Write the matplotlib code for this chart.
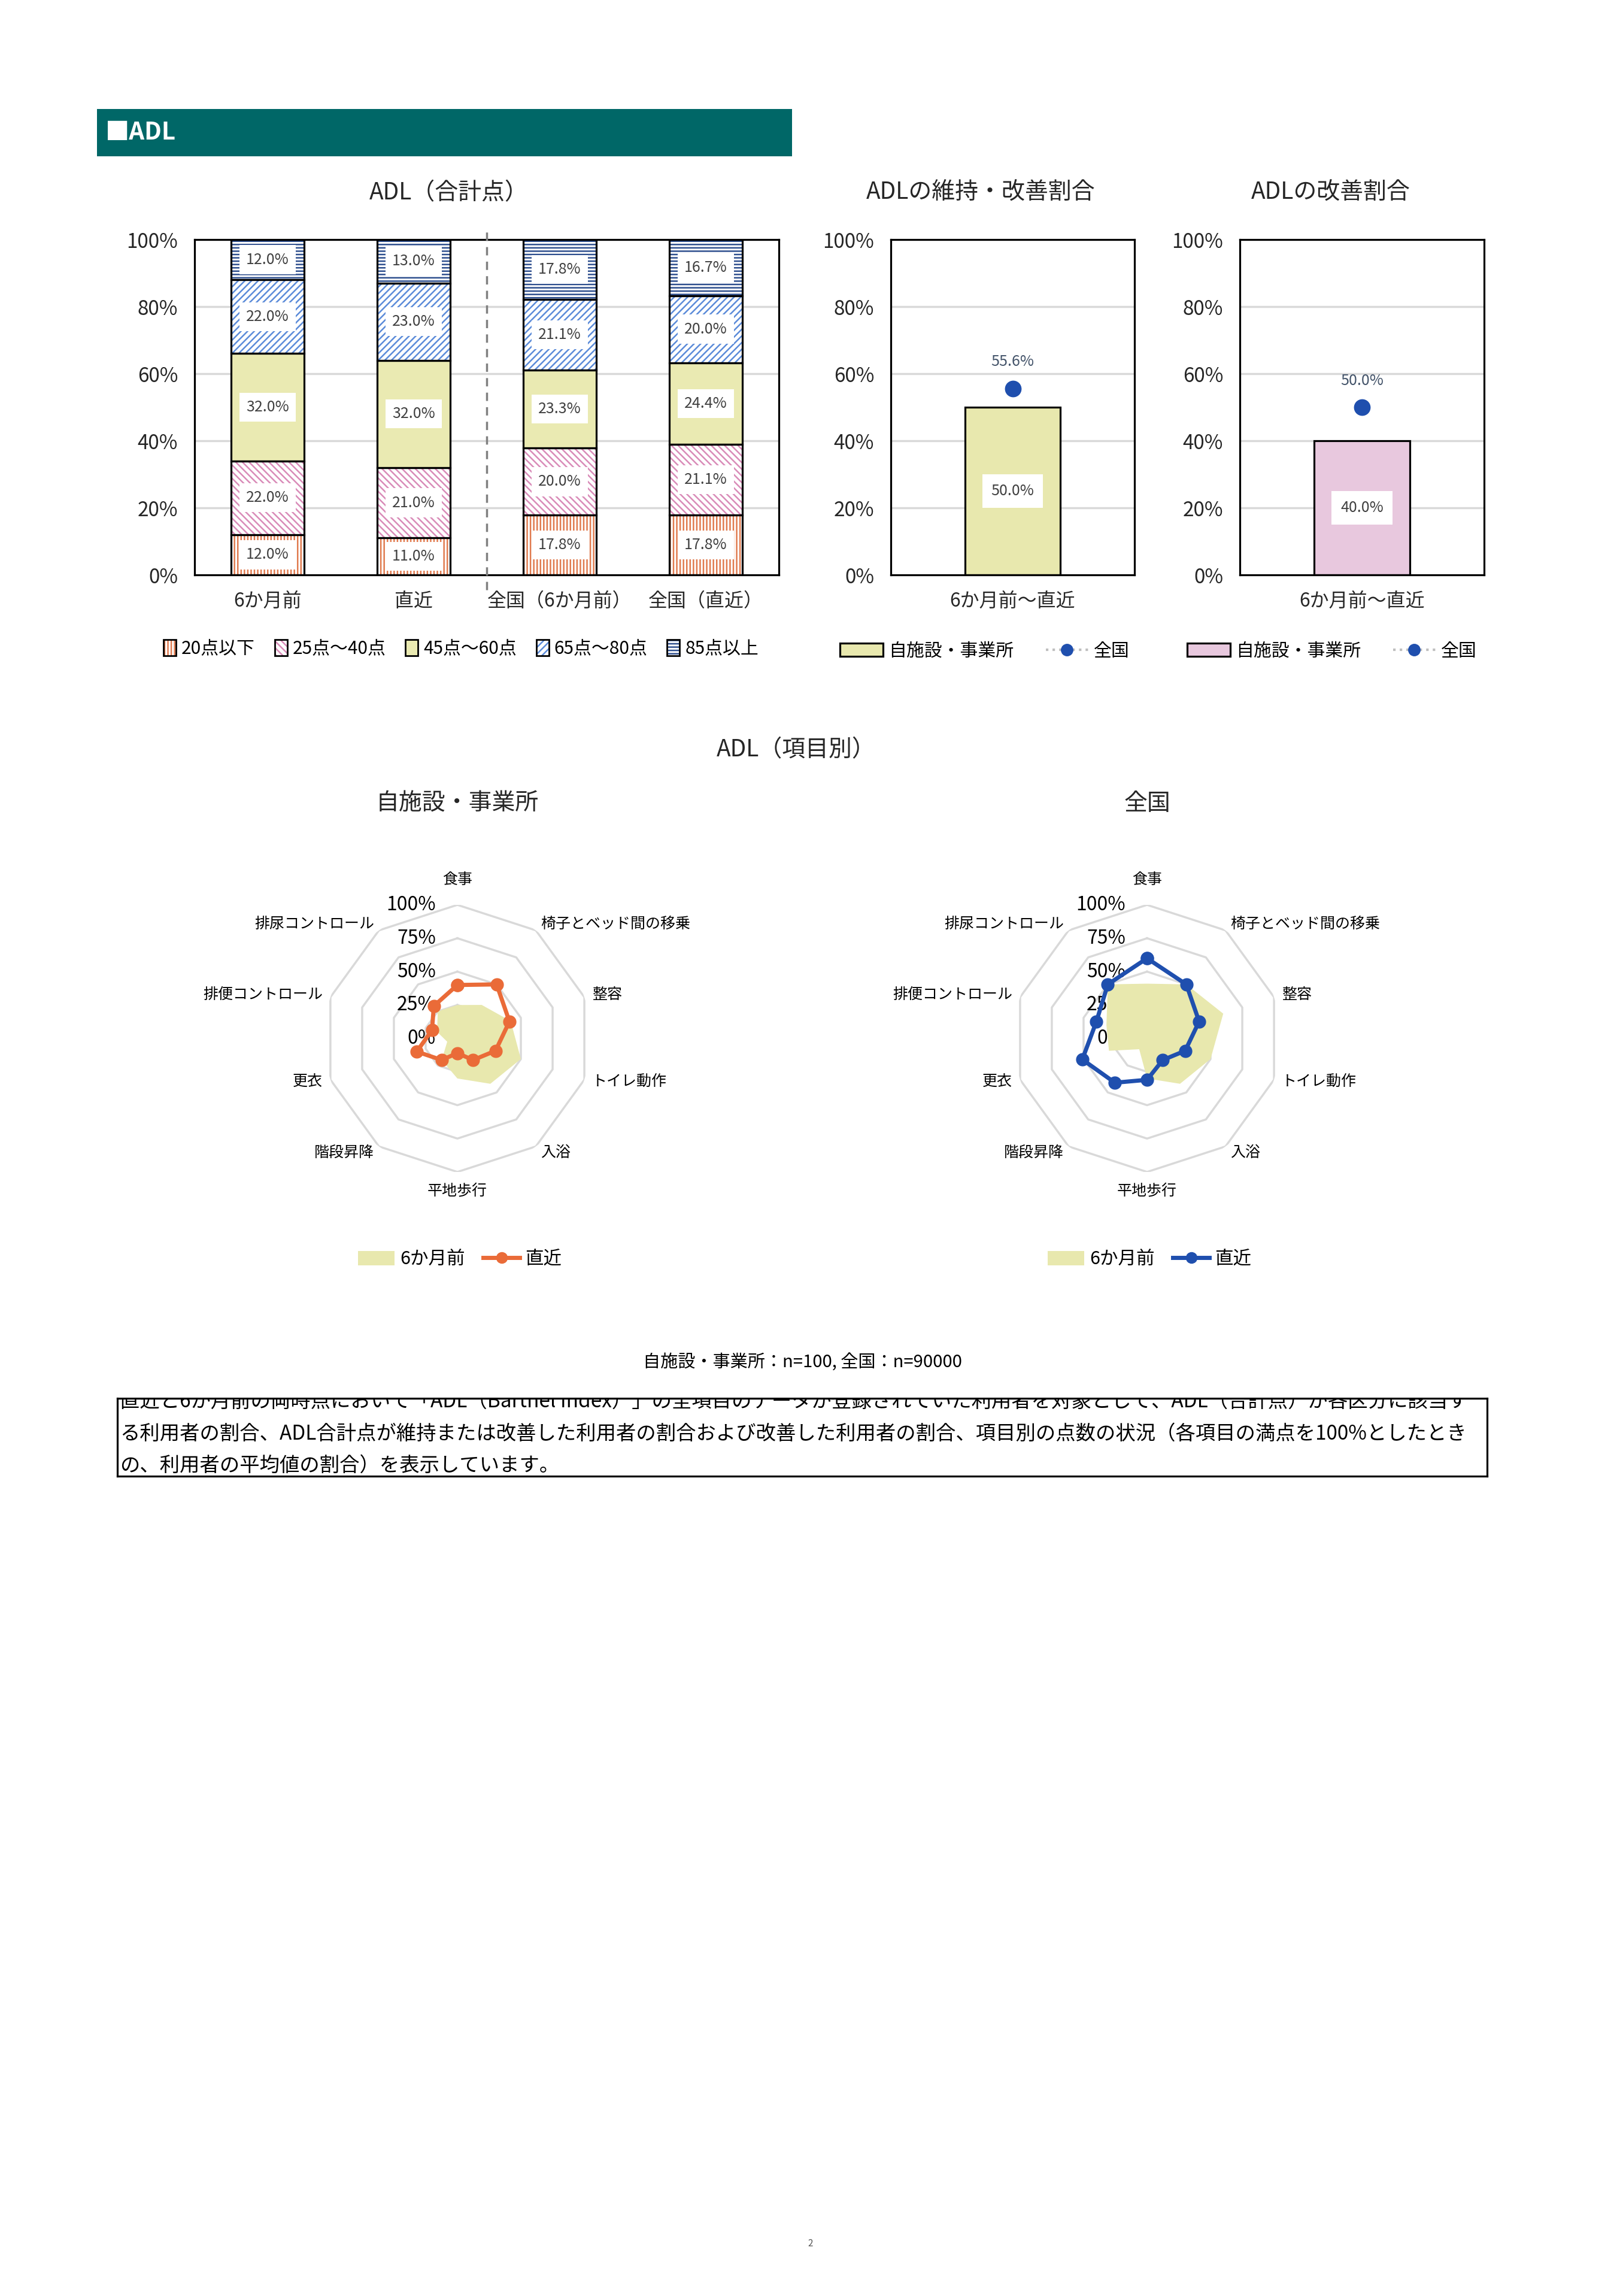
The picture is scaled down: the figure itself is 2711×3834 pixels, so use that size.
import numpy as np
import matplotlib
matplotlib.use('Agg')
import matplotlib.pyplot as plt
from matplotlib.patches import Rectangle, Patch
from matplotlib.lines import Line2D

plt.rcParams['font.family'] = ['Noto Sans CJK JP', 'DejaVu Sans']
plt.rcParams['hatch.linewidth'] = 1.8

# ---------------- data ----------------
bar_categories = ['6か月前', '直近', '全国（6か月前）', '全国（直近）']
band_labels = ['20点以下', '25点～40点', '45点～60点', '65点～80点', '85点以上']
band_20_or_less = [12.0, 11.0, 17.8, 17.8]
band_25_40 = [22.0, 21.0, 20.0, 21.1]
band_45_60 = [32.0, 32.0, 23.3, 24.4]
band_65_80 = [22.0, 23.0, 21.1, 20.0]
band_85_plus = [12.0, 13.0, 17.8, 16.7]

period_label = ['6か月前～直近']
maintain_improve_self = [50.0]
maintain_improve_national = [55.6]
improve_self = [40.0]
improve_national = [50.0]

radar_items = ['食事', '椅子とベッド間の移乗', '整容', 'トイレ動作', '入浴',
               '平地歩行', '階段昇降', '更衣', '排便コントロール', '排尿コントロール']
self_before = [25, 31, 42, 50, 42, 30, 20, 8, 16, 25]
self_recent = [40, 50, 41, 30, 20, 11, 20, 32, 20, 30]
national_before = [41, 50, 60, 50, 42, 30, 10, 30, 32, 50]
national_recent = [60, 50, 41, 30, 20, 31, 41, 51, 40, 50]

radar_levels = [0, 25, 50, 75, 100]

note_lines = [
    '直近と6か月前の両時点において「ADL（Barthel Index）」の全項目のデータが登録されていた利用者を対象として、ADL（合計点）が各区分に該当す',
    'る利用者の割合、ADL合計点が維持または改善した利用者の割合および改善した利用者の割合、項目別の点数の状況（各項目の満点を100%としたとき',
    'の、利用者の平均値の割合）を表示しています。',
]

# ---------------- styles ----------------
W, H = 2711, 3834
DPI = 100
fig = plt.figure(figsize=(W / DPI, H / DPI), dpi=DPI)
fig.patch.set_facecolor('white')

def ax_px(l, t, r, b, **kw):
    return fig.add_axes([l / W, 1 - b / H, (r - l) / W, (b - t) / H], **kw)

def fx(x):
    return x / W

def fy(y):
    return 1 - y / H

TICK_C = '#262626'
LABEL_C = '#404040'
GRID_C = '#d9d9d9'
band_styles = [
    dict(fc='white', hc='#E07B4F', hatch='|||'),
    dict(fc='white', hc='#D98BB8', hatch='\\\\\\'),
    dict(fc='#EAEAB2', hc='#EAEAB2', hatch=None),
    dict(fc='white', hc='#5B8BD9', hatch='///'),
    dict(fc='white', hc='#2E4F8E', hatch='---'),
]
YELLOW = '#E8E8AE'
PINK = '#E8C8DE'
DOT_BLUE = '#1F4FAE'
ORANGE = '#EA6B38'
TITLE_FS = 28

# ---------------- header ----------------
fig.patches.append(Rectangle((fx(162), fy(261)), (1323 - 162) / W, (261 - 182) / H,
                             transform=fig.transFigure, facecolor='#006767', edgecolor='none'))
fig.text(fx(176), fy(222), '■ADL', color='white', fontsize=29, fontweight='bold',
         ha='left', va='center')

def style_bar_axes(ax):
    for s in ax.spines.values():
        s.set_linewidth(2.3)
        s.set_color('black')
    ax.set_ylim(0, 100)
    ax.set_yticks([0, 20, 40, 60, 80, 100])
    ax.set_yticklabels([f'{v}%' for v in [0, 20, 40, 60, 80, 100]])
    ax.yaxis.grid(True, color=GRID_C, linewidth=2.5)
    ax.set_axisbelow(True)
    ax.tick_params(axis='y', length=0, pad=20, labelsize=24, labelcolor=TICK_C)
    ax.tick_params(axis='x', length=0, pad=20, labelsize=23, labelcolor=TICK_C)

# ---------------- chart 1: stacked bars ----------------
ax1 = ax_px(325, 400, 1301, 960)
x1 = np.arange(len(bar_categories))
bands = [band_20_or_less, band_25_40, band_45_60, band_65_80, band_85_plus]
bottom = np.zeros(len(bar_categories))
legend_handles = []
for vals, st, lab in zip(bands, band_styles, band_labels):
    vals = np.array(vals)
    ax1.bar(x1, vals, 0.5, bottom=bottom, facecolor=st['fc'], edgecolor=st['hc'],
            hatch=st['hatch'], linewidth=0, zorder=2)
    ax1.bar(x1, vals, 0.5, bottom=bottom, fill=False, edgecolor='black', linewidth=2.3, zorder=3)
    for xi, v, b in zip(x1, vals, bottom):
        ax1.text(xi, b + v / 2, f'{v:.1f}%', ha='center', va='center', fontsize=18,
                 color=LABEL_C, zorder=4,
                 bbox=dict(boxstyle='square,pad=0.45', fc='white', ec='none'))
    legend_handles.append((Patch(facecolor=st['fc'], edgecolor=st['hc'], hatch=st['hatch'], linewidth=0),
                           Patch(fill=False, edgecolor='black', linewidth=2.0)))
    bottom = bottom + vals
ax1.set_xlim(-0.5, 3.5)
ax1.set_xticks(x1)
ax1.set_xticklabels(bar_categories)
style_bar_axes(ax1)
ax1.axvline(1.5, ymin=-0.045, ymax=1.03, color='#808080', linestyle=(0, (4, 3)),
            linewidth=2.5, clip_on=False, zorder=5)
fig.text(fx(750), fy(322), 'ADL（合計点）', ha='center', va='center', fontsize=TITLE_FS, color=TICK_C)
fig.legend(legend_handles, band_labels, loc='center', bbox_to_anchor=(fx(770), fy(1083)),
           ncol=5, frameon=False, fontsize=21.5, handlelength=0.7, handleheight=1.0,
           columnspacing=1.1, handletextpad=0.3)

# ---------------- charts 2 & 3 ----------------
def small_chart(l, r, title, title_x, self_vals, nat_vals, color, leg_x):
    ax = ax_px(l, 400, r, 960)
    xs = np.arange(len(period_label))
    ax.bar(xs, self_vals, 0.39, facecolor=color, edgecolor='black', linewidth=2.3, zorder=2)
    ax.plot(xs, nat_vals, linestyle='none', marker='o', markersize=19, color=DOT_BLUE, zorder=4)
    for xi, v in zip(xs, self_vals):
        ax.text(xi, v / 2, f'{v:.1f}%', ha='center', va='center', fontsize=18, color=LABEL_C,
                zorder=4, bbox=dict(boxstyle='square,pad=0.6', fc='white', ec='none'))
    for xi, v in zip(xs, nat_vals):
        ax.annotate(f'{v:.1f}%', xy=(xi, v), xytext=(0, 32), textcoords='offset points',
                    ha='center', va='center', fontsize=18, color='#44546A')
    ax.set_xlim(-0.5, 0.5)
    ax.set_xticks(xs)
    ax.set_xticklabels(period_label)
    style_bar_axes(ax)
    fig.text(fx(title_x), fy(322), title, ha='center', va='center', fontsize=TITLE_FS, color=TICK_C)
    hs = [Patch(facecolor=color, edgecolor='black', linewidth=2.3),
          Line2D([], [], color='#BFBFBF', linestyle=':', linewidth=3, marker='o',
                 markersize=14, markerfacecolor=DOT_BLUE, markeredgecolor=DOT_BLUE)]
    fig.legend(hs, ['自施設・事業所', '全国'], loc='center', bbox_to_anchor=(fx(leg_x), fy(1087)),
               ncol=2, frameon=False, fontsize=21.5, handlelength=2.4, handleheight=0.75,
               columnspacing=1.8, handletextpad=0.3, numpoints=1)

small_chart(1488, 1895, 'ADLの維持・改善割合', 1638, maintain_improve_self,
            maintain_improve_national, YELLOW, 1645)
small_chart(2071, 2479, 'ADLの改善割合', 2223, improve_self, improve_national, PINK, 2225)

# ---------------- radar charts ----------------
fig.text(fx(1330), fy(1252), 'ADL（項目別）', ha='center', va='center', fontsize=TITLE_FS, color=TICK_C)

def radar(cx, cy, subtitle, before, recent, color):
    R = 223
    ax = fig.add_axes([(cx - R) / W, 1 - (cy + R) / H, 2 * R / W, 2 * R / H], projection='polar')
    ax.set_theta_zero_location('N')
    ax.set_theta_direction(-1)
    n = len(radar_items)
    theta = np.arange(n) * 2 * np.pi / n
    tc = np.append(theta, theta[0])
    ax.set_ylim(0, 100)
    ax.grid(False)
    ax.set_xticks([])
    ax.set_yticks([])
    ax.spines['polar'].set_visible(False)
    ax.patch.set_visible(False)
    for lvl in radar_levels[1:]:
        ax.plot(tc, [lvl] * (n + 1), color=GRID_C, linewidth=2.5, zorder=1)
    for lvl in radar_levels:
        ax.annotate(f'{lvl}%', xy=(0, lvl), xytext=(-26, 0), textcoords='offset points',
                    ha='right', va='center', fontsize=23, color='black', zorder=2)
    b = np.append(before, before[0])
    r = np.append(recent, recent[0])
    ax.fill(tc, b, facecolor=YELLOW, edgecolor='none', zorder=3)
    ax.plot(tc, r, color=color, linewidth=5, marker='o', markersize=15, zorder=5)
    for th, lab in zip(theta, radar_items):
        s = np.sin(th)
        if abs(s) < 0.1:
            ha = 'center'
            rr = 119 if np.cos(th) > 0 else 114
        else:
            ha = 'left' if s > 0 else 'right'
            rr = 106
        ax.text(th, rr, lab, ha=ha, va='center', fontsize=18, color='black')
    fig.text(fx(cx), fy(1342), subtitle, ha='center', va='center', fontsize=TITLE_FS, color=TICK_C)
    hs = [Patch(facecolor=YELLOW, edgecolor='none'),
          Line2D([], [], color=color, linewidth=5, marker='o', markersize=13)]
    fig.legend(hs, ['6か月前', '直近'], loc='center', bbox_to_anchor=(fx(cx + 4), fy(2103)),
               ncol=2, frameon=False, fontsize=22, handlelength=2.0, handleheight=0.8,
               columnspacing=1.0, handletextpad=0.3, numpoints=1)

radar(764, 1734, '自施設・事業所', self_before, self_recent, ORANGE)
radar(1916, 1734, '全国', national_before, national_recent, DOT_BLUE)

# ---------------- notes ----------------
fig.text(fx(1340), fy(2276), '自施設・事業所：n=100, 全国：n=90000', ha='center', va='center',
         fontsize=21, color='black')

axn = ax_px(196, 2335, 2484, 2465)
axn.set_xticks([])
axn.set_yticks([])
for s in axn.spines.values():
    s.set_linewidth(2.3)
    s.set_color('black')
box_h = 2465 - 2335
for ln, yc in zip(note_lines, [2340, 2394, 2447]):
    axn.text(4 / (2484 - 196), 1 - (yc - 2335) / box_h, ln, transform=axn.transAxes,
             ha='left', va='center', fontsize=24, color='black', clip_on=True)

fig.text(fx(1354), fy(3746), '2', ha='center', va='center', fontsize=11, color='#555555')

fig.savefig('out.png', dpi=DPI, facecolor='white')
